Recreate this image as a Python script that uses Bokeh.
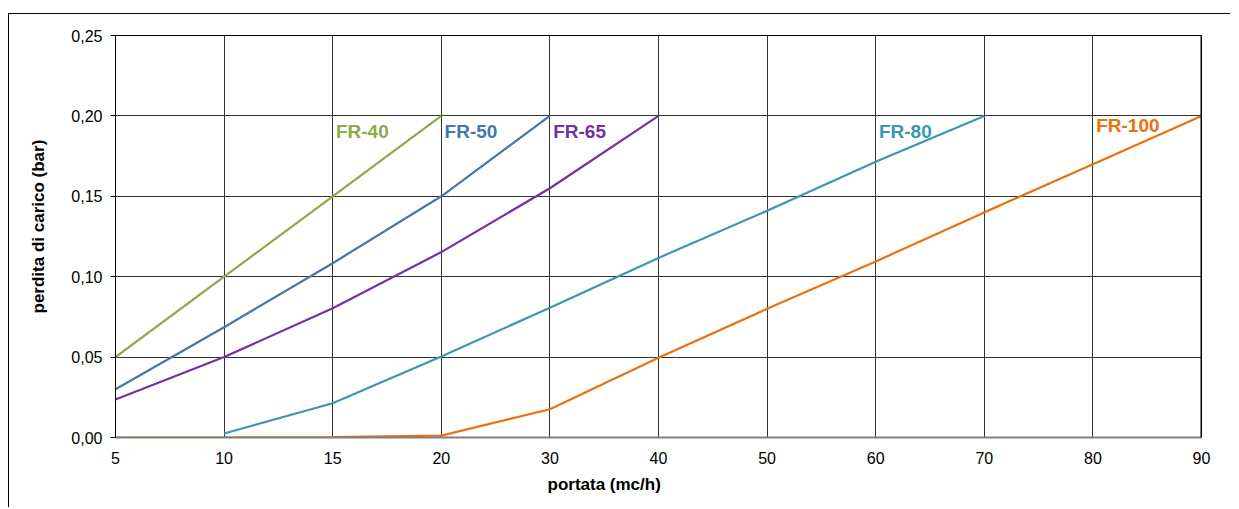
from bokeh.plotting import figure
from bokeh.models import Range1d, FixedTicker, CustomJSTickFormatter, Label, Span, Title
from bokeh.embed import file_html
from bokeh.resources import INLINE

categories = ["5", "10", "15", "20", "30", "40", "50", "60", "70", "80", "90"]

fr40 = [0.050, 0.100, 0.150, 0.200, None, None, None, None, None, None, None]
fr50 = [0.030, 0.0686, 0.1084, 0.150, 0.200, None, None, None, None, None, None]
fr65 = [0.0236, 0.050, 0.0804, 0.1153, 0.155, 0.200, None, None, None, None, None]
fr80 = [None, 0.0025, 0.0213, 0.0504, 0.0807, 0.1117, 0.141, 0.1715, 0.200, None, None]
fr100 = [0.0, 0.0, 0.0003, 0.0012, 0.0176, 0.0496, 0.080, 0.1095, 0.140, 0.170, 0.200]

series_names = ["FR-40", "FR-50", "FR-65", "FR-80", "FR-100"]
series_values = [fr40, fr50, fr65, fr80, fr100]
series_colors = ["#8DAA4B", "#4577AD", "#7331A6", "#3A97AE", "#E8720F"]
label_y = [0.19, 0.19, 0.19, 0.19, 0.194]

y_ticks = [0.0, 0.05, 0.10, 0.15, 0.20, 0.25]

x_title = "portata (mc/h)"
y_title = "perdita di carico (bar)"

FONT = "Liberation Sans"

p = figure(width=1222, height=494,
           x_range=Range1d(0, len(categories) - 1), y_range=Range1d(0, 0.25),
           output_backend="svg", toolbar_location=None,
           min_border_left=106, min_border_right=30,
           min_border_top=21, min_border_bottom=71)
p.styles = {"border-top": "1px solid #000", "border-left": "1px solid #000",
            "margin-top": "13px", "margin-left": "8px"}

p.background_fill_color = "white"
p.border_fill_color = "white"
p.outline_line_color = "black"
p.outline_line_width = 1

# axes
p.xaxis.ticker = FixedTicker(ticks=list(range(len(categories))))
p.xaxis.formatter = CustomJSTickFormatter(args=dict(cats=categories),
                                          code="return cats[Math.round(tick)];")
p.xaxis.major_tick_out = 0
p.xaxis.major_tick_in = 0
p.xaxis.minor_tick_line_color = None
p.xaxis.axis_line_color = "#808080"
p.xaxis.axis_line_width = 2
p.xaxis.major_label_standoff = 14
p.xaxis.major_label_text_font = FONT
p.xaxis.major_label_text_font_size = "16px"
p.xaxis.major_label_text_color = "black"

p.yaxis.ticker = FixedTicker(ticks=y_ticks)
p.yaxis.formatter = CustomJSTickFormatter(code="return tick.toFixed(2).replace('.', ',');")
p.yaxis.major_tick_out = 5
p.yaxis.major_tick_in = 0
p.yaxis.major_tick_line_color = "black"
p.yaxis.minor_tick_line_color = None
p.yaxis.axis_line_color = "black"
p.yaxis.major_label_standoff = 8
p.yaxis.major_label_text_font = FONT
p.yaxis.major_label_text_font_size = "16px"
p.yaxis.major_label_text_color = "black"

p.xgrid.ticker = FixedTicker(ticks=list(range(len(categories))))
p.ygrid.ticker = FixedTicker(ticks=y_ticks)
p.grid.grid_line_color = "#333333"
p.grid.grid_line_width = 1

p.add_layout(Span(location=len(categories) - 1, dimension="height",
                  line_color="black", line_width=2))

for name, vals, col, ly in zip(series_names, series_values, series_colors, label_y):
    xs = [i for i, v in enumerate(vals) if v is not None]
    ys = [v for v in vals if v is not None]
    p.line(xs, ys, line_color=col, line_width=2.2)
    p.add_layout(Label(x=xs[-1] - 0.97, y=ly, text=name, text_color=col,
                       text_font=FONT, text_font_style="bold",
                       text_font_size="19px", text_baseline="middle",
                       text_align="left"))

p.add_layout(Title(text=x_title, align="left", offset=432, standoff=12,
                   text_font=FONT, text_font_style="bold", text_font_size="17px",
                   text_color="black"), "below")
p.add_layout(Title(text=y_title, align="left", offset=124, standoff=38,
                   vertical_align="top",
                   text_font=FONT, text_font_style="bold", text_font_size="17px",
                   text_color="black"), "left")

open("out.html", "w").write(file_html(p, INLINE))
